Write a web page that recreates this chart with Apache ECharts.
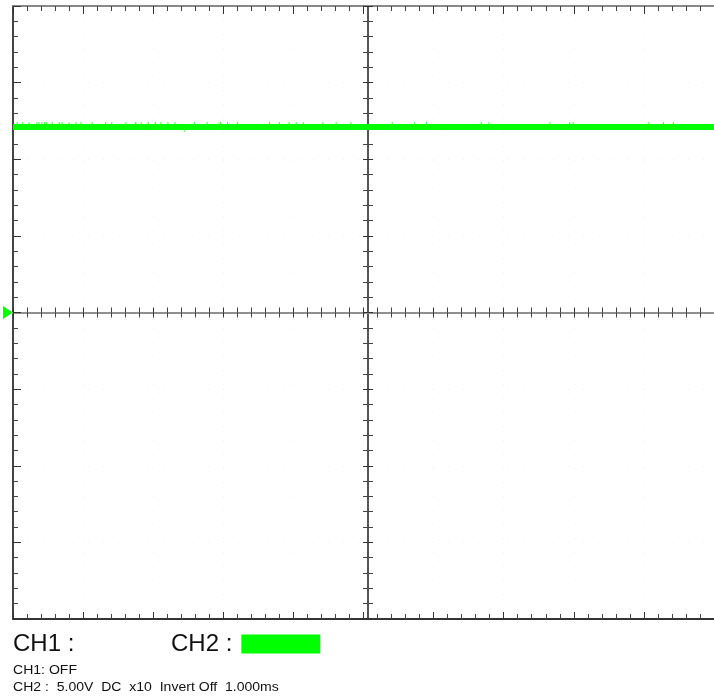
<!DOCTYPE html>
<html>
<head>
<meta charset="utf-8">
<script src="https://cdn.jsdelivr.net/npm/echarts@6/dist/echarts.min.js"></script>
<style>
html,body{margin:0;padding:0;background:#fff;}
#c{width:714px;height:697px;}
</style>
</head>
<body>
<div id="c"></div>
<script>
// Time axis in ms (1.000 ms/div, 10 divisions), voltage axis in V (5.00 V/div, 8 divisions)
var timeRange = [-5, 5];
var voltRange = [-20, 20];
var traceLevel = 12.1;               // CH2 DC level (V)
var traceTimes = [-5, 5];
// noise spikes above the trace: time (ms)
var spikeUpTimes = [-4.94,-4.86,-4.77,-4.66,-4.63,-4.59,-4.55,-4.52,-4.44,-4.34,-4.30,-4.20,-4.10,-4.03,-3.87,-3.68,-3.59,-3.39,-3.25,-3.17,-3.07,-2.97,-2.89,-2.79,-2.69,-2.41,-2.23,-2.04,-1.94,-1.80,-1.34,-1.20,-1.06,-0.96,-0.86,-0.58,-0.39,-0.18,0.41,0.73,0.90,1.68,1.79,2.66,2.94,2.99,4.07,4.28,4.42];
var spikeUpLevel = 12.27;
var spikeDownTimes = [-2.55];
var spikeDownLevel = 11.95;
var ch1Label = 'CH1 :';
var ch2Label = 'CH2 :';
var infoLines = ['CH1: OFF', 'CH2 :  5.00V  DC  x10  Invert Off  1.000ms'];

var FONT = '"Liberation Sans", Arial, sans-serif';
var GREEN = '#00ff00';
var chart = echarts.init(document.getElementById('c'));

var G = {left: 13, top: 6, width: 710, height: 613};
var halfH = G.height / 2;
var halfW = 355;

function hiddenX(idx){ return {type:'value', gridIndex: idx, show:false, min:timeRange[0], max:timeRange[1]}; }
function hiddenY(idx){ return {type:'value', gridIndex: idx, show:false, min:voltRange[0], max:voltRange[1]}; }

function frameX(idx, pos, lineColor, majorLen, minorLen, gridLines){
  return {
    type:'value', gridIndex: idx, position: pos,
    min: timeRange[0], max: timeRange[1], interval: 1,
    axisLine: {show:true, onZero:false, lineStyle:{color: lineColor, width:2}},
    axisTick: {show:true, inside:true, length: majorLen, lineStyle:{color:'#333', width:1}},
    minorTick: {show:true, splitNumber: 5, length: minorLen, lineStyle:{color:'#444', width:1}},
    axisLabel: {show:false},
    splitLine: {show: !!gridLines, lineStyle:{color:'#f0f0f0', type:[1,13]}},
    minorSplitLine: {show:false}
  };
}
function frameY(idx, pos, lineColor, majorLen, minorLen, gridLines){
  return {
    type:'value', gridIndex: idx, position: pos,
    min: voltRange[0], max: voltRange[1], interval: 5,
    axisLine: {show:true, onZero:false, lineStyle:{color: lineColor, width:2}},
    axisTick: {show:true, inside:true, length: majorLen, lineStyle:{color:'#333', width:1}},
    minorTick: {show:true, splitNumber: 5, length: minorLen, lineStyle:{color:'#444', width:1}},
    axisLabel: {show:false},
    splitLine: {show: !!gridLines, lineStyle:{color:'#f0f0f0', type:[1,14]}},
    minorSplitLine: {show:false}
  };
}

var option = {
  backgroundColor: '#ffffff',
  animation: false,
  grid: [
    {left: G.left, top: G.top, width: G.width, height: G.height},                 // 0 frame + trace
    {left: G.left, top: G.top, width: G.width, height: halfH},                    // 1 center horiz (up ticks)
    {left: G.left, top: G.top + halfH, width: G.width, height: halfH},            // 2 center horiz (down ticks)
    {left: G.left, top: G.top, width: halfW, height: G.height},                   // 3 center vert (left ticks)
    {left: G.left + halfW, top: G.top, width: halfW, height: G.height}            // 4 center vert (right ticks)
  ],
  xAxis: [
    frameX(0, 'bottom', '#333', 7, 5, true),
    frameX(0, 'top', '#888', 8, 5, false),
    frameX(1, 'bottom', '#909090', 5, 5, false),
    frameX(2, 'top', '#909090', 5, 5, false),
    hiddenX(3),
    hiddenX(4)
  ],
  yAxis: [
    frameY(0, 'left', '#444', 8, 5, true),
    hiddenY(1),
    hiddenY(2),
    frameY(3, 'right', '#555', 5, 5, false),
    frameY(4, 'left', '#555', 5, 5, false)
  ],
  legend: {
    left: 171, top: 632, padding: 0,
    align: 'right',
    icon: 'rect',
    itemWidth: 79, itemHeight: 19,
    data: ['CH2'],
    formatter: function(){ return ch2Label; },
    textStyle: {fontFamily: FONT, fontSize: 24, color: '#111', padding: [0, 4, 0, 0]}
  },
  graphic: [
    {type:'text', left: 13, top: 632, style:{text: ch1Label, font: '24px ' + FONT, fill:'#111'}},
    {type:'text', x: 13, y: 665, scaleX: 1.17, style:{text: infoLines[0], font: '12px ' + FONT, fill:'#111'}},
    {type:'text', x: 13, y: 682, scaleX: 1.17, style:{text: infoLines[1], font: '12px ' + FONT, fill:'#111'}}
  ],
  series: [
    {
      name: 'CH2', type: 'line', xAxisIndex: 0, yAxisIndex: 0,
      data: traceTimes.map(function(t){ return [t, traceLevel]; }),
      showSymbol: false, symbol: 'none',
      color: GREEN,
      itemStyle: {color: GREEN},
      lineStyle: {color: GREEN, width: 6},
      markPoint: {
        symbol: 'triangle', symbolSize: [13, 10], symbolRotate: -90, symbolOffset: [-5, 0],
        label: {show:false},
        itemStyle: {color: GREEN},
        data: [{coord: [timeRange[0], 0]}]
      },
      z: 3
    },
    {
      name: 'CH2 noise up', type: 'scatter', xAxisIndex: 0, yAxisIndex: 0,
      data: spikeUpTimes.map(function(t){ return [t, spikeUpLevel]; }),
      symbol: 'rect', symbolSize: [1, 5],
      itemStyle: {color: GREEN}, z: 3
    },
    {
      name: 'CH2 noise down', type: 'scatter', xAxisIndex: 0, yAxisIndex: 0,
      data: spikeDownTimes.map(function(t){ return [t, spikeDownLevel]; }),
      symbol: 'rect', symbolSize: [1, 5],
      itemStyle: {color: GREEN}, z: 3
    }
  ]
};
chart.setOption(option);
</script>
</body>
</html>
